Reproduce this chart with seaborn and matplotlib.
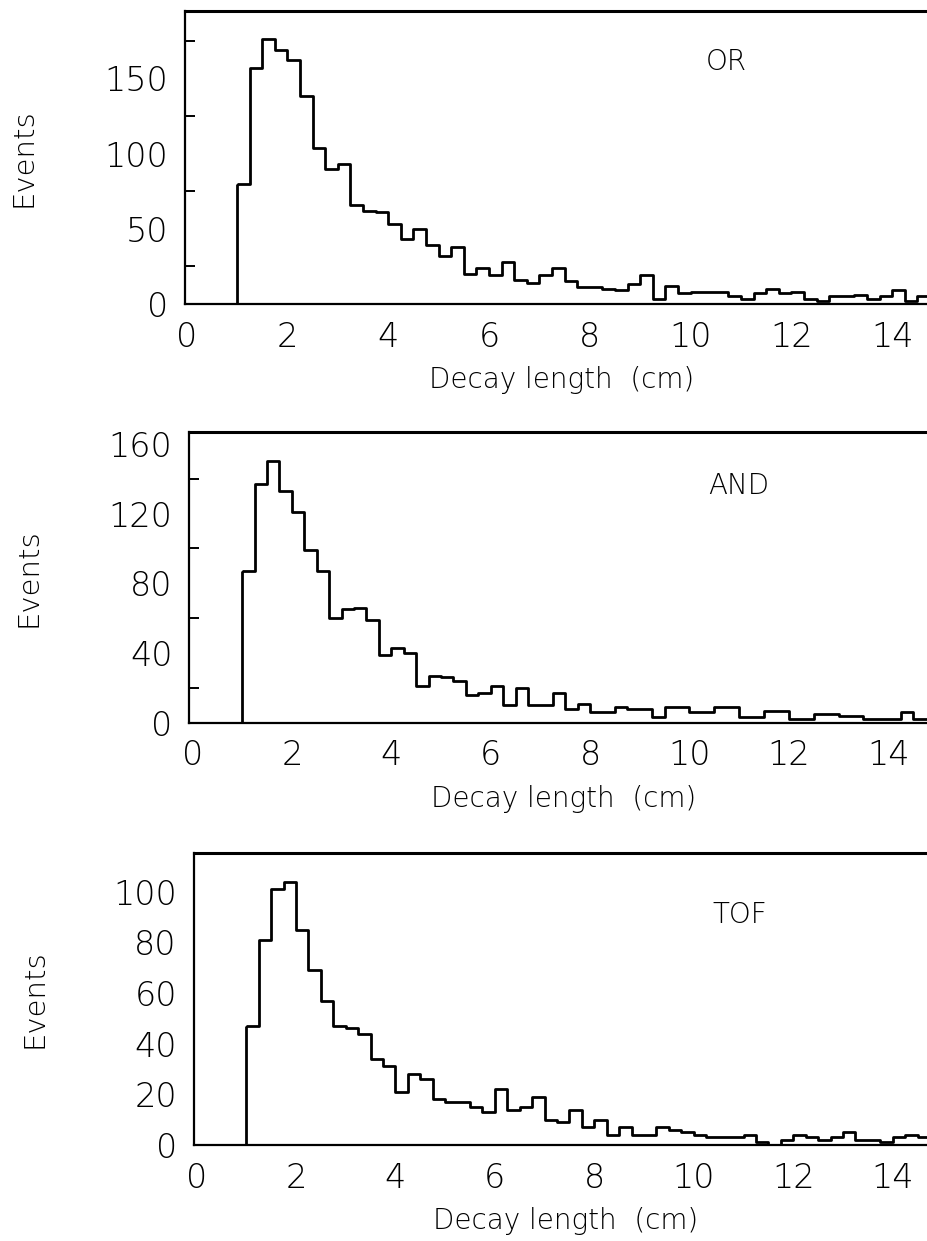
import numpy as np
import pandas as pd
import matplotlib
matplotlib.use("Agg")
import matplotlib.pyplot as plt
import seaborn as sns
from matplotlib.ticker import MultipleLocator

# ---------------- data ----------------
bin_start = 1.0
bin_width = 0.25
n_bins = 56

or_counts = [80, 157, 176, 169, 162, 138, 104, 90, 93, 66, 62, 61, 53, 43, 50, 39,
             32, 38, 20, 24, 19, 28, 16, 14, 19, 24,
             15, 11, 11, 10, 9, 13, 19, 3, 12, 7, 8, 8, 8, 5, 3, 7, 10, 7, 8, 3,
             2, 5, 5, 6, 3, 5, 9, 2, 5, 4]

and_counts = [87, 137, 150, 133, 121, 99, 87, 60, 65, 66, 59, 39, 43, 40, 21, 27,
              26, 24, 16, 17, 21, 10, 20, 10, 10, 17,
              8, 11, 6, 6, 9, 8, 8, 3, 9, 9, 6, 6, 9, 9, 3, 3, 7, 7, 2, 2,
              5, 5, 4, 4, 2, 2, 2, 6, 2, 2]

tof_counts = [47, 81, 101, 104, 85, 69, 57, 47, 46, 44, 34, 31, 21, 28, 26, 18,
              17, 17, 15, 13, 22, 14, 15, 19,
              10, 9, 14, 7, 10, 4, 7, 4, 4, 7, 6, 5, 4, 3, 3, 3, 4, 1, 0, 2,
              4, 3, 2, 3, 5, 2, 2, 1, 3, 4, 3, 3]

panel_names = ["OR", "AND", "TOF"]
x_tick_values = [0, 2, 4, 6, 8, 10, 12, 14]
y_major = [50, 40, 20]
y_minor = [25, 20, 20]
y_max = [195, 167, 115.4]
x_label = "Decay length  (cm)"
y_label = "Events"

# ---------------- layout ----------------
W, H = 927, 1241
# (left px, top px, bottom px) of each panel in the reference
panel_px = [(185, 10.7, 304.0), (189, 431.7, 722.7), (193.5, 852.7, 1145.0)]
x_lims = [(-0.03, 14.69), (-0.07, 14.78), (-0.06, 14.69)]
label_pos = [(0.730, 0.824), (0.745, 0.814), (0.745, 0.787)]

sns.set_style("white")
plt.rcParams["font.family"] = ["DejaVu Sans"]
plt.rcParams["font.weight"] = "light"
for key in ["text.color", "axes.labelcolor", "xtick.color", "ytick.color",
            "axes.edgecolor"]:
    plt.rcParams[key] = "black"

fig = plt.figure(figsize=(W / 100, H / 100), dpi=100)

bin_end = bin_start + bin_width * n_bins
centers = bin_start + bin_width * (np.arange(n_bins) + 0.5)

all_counts = [or_counts, and_counts, tof_counts]

for i, counts in enumerate(all_counts):
    left, top, bottom = panel_px[i]
    ax = fig.add_axes([left / W, 1 - bottom / H, (W - left) / W, (bottom - top) / H])
    df = pd.DataFrame({"x": centers, "n": np.asarray(counts, dtype=float)})
    sns.histplot(data=df, x="x", weights="n", binwidth=bin_width,
                 binrange=(bin_start, bin_end), element="step",
                 fill=True, color="black", linewidth=2.0, ax=ax)
    for coll in ax.collections:
        coll.set_facecolor("none")
        coll.set_edgecolor("black")
        coll.set_linewidth(2.0)
    ax.set_xlim(*x_lims[i])
    ax.set_ylim(0, y_max[i])
    ax.set_xticks(x_tick_values)
    ax.yaxis.set_major_locator(MultipleLocator(y_major[i]))
    ax.yaxis.set_minor_locator(MultipleLocator(y_minor[i]))
    ax.tick_params(axis="both", which="both", direction="in", length=7.5,
                   width=1.4, color="black")
    ax.tick_params(axis="y", which="major", pad=12, labelsize=24)
    ax.tick_params(axis="x", which="major", pad=12, labelsize=24)
    ax.tick_params(top=False, right=False, which="both")
    ax.tick_params(axis="y", which="minor", left=True)
    for lab in ax.get_xticklabels() + ax.get_yticklabels():
        lab.set_fontweight("light")
    for side in ["left", "bottom"]:
        ax.spines[side].set_linewidth(1.6)
        ax.spines[side].set_color("black")
    ax.spines["top"].set_linewidth(2.2)
    ax.spines["top"].set_color("black")
    ax.spines["right"].set_visible(False)

    ax.set_xlabel(x_label, fontsize=20, color="black", fontweight="light")
    ax.xaxis.label.set_va("center")
    ax.xaxis.set_label_coords(0.507, -76 / (bottom - top))
    ax.set_ylabel(y_label, fontsize=21, color="black", fontweight="light")
    ax.yaxis.label.set_va("center")
    ax.yaxis.set_label_coords(-0.217, 0.5)

    ax.text(label_pos[i][0], label_pos[i][1], panel_names[i], transform=ax.transAxes,
            ha="center", va="center", fontsize=20, color="black", fontweight="light")

fig.savefig("out.png", dpi=100)
